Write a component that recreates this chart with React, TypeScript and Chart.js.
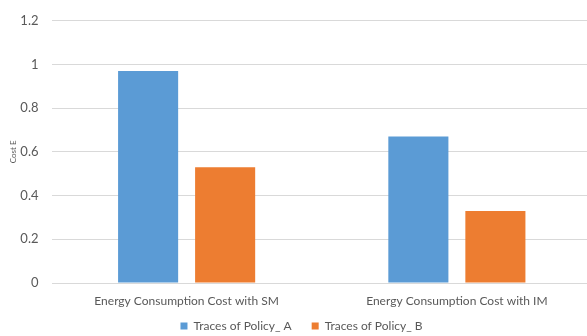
import React, { useEffect, useRef } from "react";
import { Chart, registerables } from "chart.js";

Chart.register(...registerables);

const categories = ["Energy Consumption Cost with SM", "Energy Consumption Cost with IM"];
const policyA = [0.97, 0.67];
const policyB = [0.53, 0.33];
const seriesNames = ["Traces of Policy_ A", "Traces of Policy_ B"];
const yTicks = [0, 0.2, 0.4, 0.6, 0.8, 1, 1.2];

const FONT = "Lato, 'Open Sans', sans-serif";
const TEXT = "#595959";

export default function App() {
  const ref = useRef<HTMLCanvasElement | null>(null);

  useEffect(() => {
    if (!ref.current) return;
    const shiftLegend = {
      id: "shiftLegend",
      afterLayout(chart: any) {
        const lg = chart.legend;
        if (!lg) return;
        lg.left += 5.5;
        lg.right += 5.5;
        lg.top -= 9;
        lg.bottom -= 9;
      },
    };
    const chart = new Chart(ref.current, {
      type: "bar",
      data: {
        labels: categories,
        datasets: [
          {
            label: seriesNames[0],
            data: policyA,
            backgroundColor: "#5B9BD5",
            categoryPercentage: 0.57,
            barPercentage: 0.78,
          },
          {
            label: seriesNames[1],
            data: policyB,
            backgroundColor: "#ED7D31",
            categoryPercentage: 0.57,
            barPercentage: 0.78,
          },
        ],
      },
      options: {
        responsive: false,
        animation: false,
        layout: { padding: { top: 15, left: 0, right: 0, bottom: -15 } },
        plugins: {
          tooltip: { enabled: false },
          legend: {
            position: "bottom",
            labels: {
              boxWidth: 7,
              boxHeight: 7,
              padding: 20,
              color: TEXT,
              font: { family: FONT, size: 12 },
            },
          },
        },
        scales: {
          x: {
            grid: { display: false, drawTicks: false },
            border: { display: false },
            ticks: {
              color: TEXT,
              font: { family: FONT, size: 12 },
              padding: 11,
              maxRotation: 0,
              autoSkip: false,
            },
            afterFit(scale: any) {
              scale.height = 26;
            },
          },
          y: {
            min: 0,
            max: 1.2,
            grid: { color: "#d9d9d9", drawTicks: false, lineWidth: 1 },
            border: { display: false },
            afterBuildTicks(scale: any) {
              scale.ticks = yTicks.map((v) => ({ value: v }));
            },
            ticks: {
              color: TEXT,
              font: { family: FONT, size: 13 },
              padding: 13,
              callback: (v: any) => String(Math.round(Number(v) * 10) / 10),
            },
            title: {
              display: true,
              text: "Cost E",
              color: TEXT,
              font: { family: FONT, size: 8 },
              padding: { top: 9, bottom: 0 },
            },
            afterFit(scale: any) {
              scale.width = 51.5;
            },
          },
        },
      },
      plugins: [shiftLegend],
    });
    return () => chart.destroy();
  }, []);

  return (
    <div style={{ position: "absolute", left: 0, top: 0, width: 587, height: 336, overflow: "hidden", background: "#fff" }}>
      <canvas ref={ref} width={592} height={336} style={{ display: "block", width: 592, height: 336 }} />
    </div>
  );
}
